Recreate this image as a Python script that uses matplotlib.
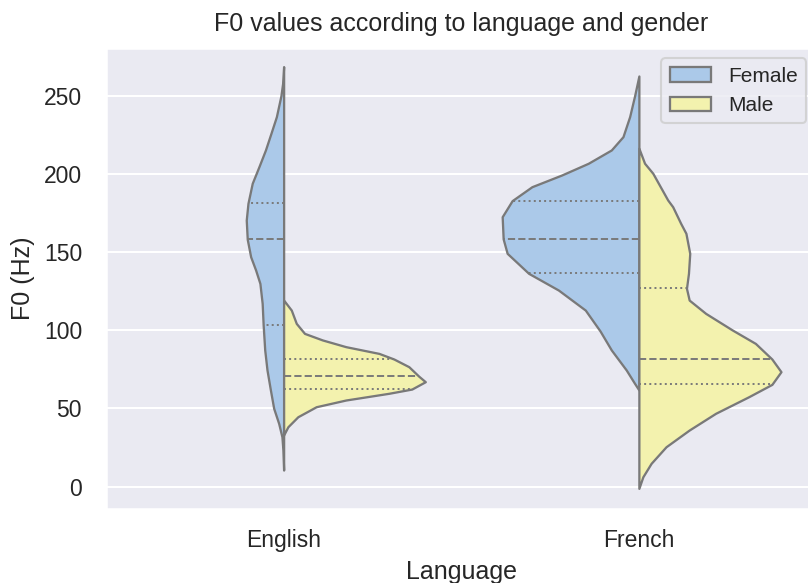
import numpy as np
import matplotlib
matplotlib.use("Agg")
import matplotlib.pyplot as plt
import seaborn as sns
from matplotlib.patches import Patch

# ---------------- data ----------------
languages = ["English", "French"]
genders = ["Female", "Male"]

# F0 grid (Hz) and relative density (1.0 = widest half-violin) for each half
eng_f_y = [268.6, 257.9, 250.0, 236.6, 226.0, 215.3, 204.6, 194.0, 181.2, 170.5,
           158.2, 147.0, 138.5, 130.0, 117.2, 103.4, 87.4, 74.6, 61.8, 50.1,
           40.5, 31.9, 23.4, 10.6]
eng_f_d = [0.0, 0.007, 0.019, 0.051, 0.089, 0.128, 0.174, 0.221, 0.251, 0.263,
           0.256, 0.232, 0.197, 0.167, 0.151, 0.144, 0.133, 0.117, 0.093, 0.070,
           0.035, 0.012, 0.005, 0.0]

eng_m_y = [119.3, 112.9, 104.4, 98.0, 93.8, 89.5, 85.2, 81.6, 76.7, 70.7,
           67.1, 62.4, 59.7, 55.4, 51.1, 44.7, 38.3, 33.0]
eng_m_d = [0.0, 0.054, 0.089, 0.147, 0.273, 0.438, 0.671, 0.776, 0.881, 0.950,
           0.997, 0.902, 0.741, 0.438, 0.229, 0.100, 0.030, 0.0]

fr_f_y = [262.6, 250.0, 236.6, 223.8, 215.3, 206.8, 199.3, 191.8, 182.9, 172.6,
          158.4, 149.2, 136.4, 125.7, 112.9, 99.5, 87.4, 74.6, 66.0, 61.8]
fr_f_d = [0.0, 0.030, 0.065, 0.112, 0.194, 0.356, 0.543, 0.753, 0.892, 0.962,
          0.955, 0.927, 0.776, 0.566, 0.377, 0.273, 0.194, 0.089, 0.030, 0.0]

fr_m_y = [216.4, 206.8, 200.4, 183.3, 179.0, 168.4, 162.0, 149.2, 136.4, 126.8,
          119.3, 110.8, 100.2, 91.6, 81.6, 73.5, 65.4, 57.5, 46.9, 36.2,
          25.5, 14.9, 6.3, -1.1]
fr_m_d = [0.0, 0.040, 0.098, 0.203, 0.238, 0.294, 0.331, 0.358, 0.349, 0.335,
          0.354, 0.470, 0.657, 0.820, 0.936, 1.0, 0.936, 0.773, 0.540, 0.354,
          0.191, 0.086, 0.028, 0.0]

# quartiles (Q1, median, Q3)
eng_f_q = [103.4, 158.2, 181.2]
eng_m_q = [62.4, 70.7, 81.6]
fr_f_q = [136.4, 158.4, 182.9]
fr_m_q = [65.4, 81.6, 126.8]

yticks = [0, 50, 100, 150, 200, 250]

# ---------------- style ----------------
sns.set_theme(style="darkgrid")
plt.rcParams["font.family"] = ["Liberation Sans", "DejaVu Sans"]

colors = {"Female": "#abc9e9", "Male": "#f3f2ae"}
edge = "#797979"
lw = 1.1
half_width = 0.4

DPI = 150
fig = plt.figure(figsize=(808 / DPI, 583 / DPI), dpi=DPI)
W, H = 808, 583
ax = fig.add_axes([106 / W, (H - 509) / H, (816.5 - 106) / W, (509 - 48) / H])

halves = {
    ("English", "Female"): (eng_f_y, eng_f_d, eng_f_q),
    ("English", "Male"): (eng_m_y, eng_m_d, eng_m_q),
    ("French", "Female"): (fr_f_y, fr_f_d, fr_f_q),
    ("French", "Male"): (fr_m_y, fr_m_d, fr_m_q),
}

for i, lang in enumerate(languages):
    for g in genders:
        y, d, q = halves[(lang, g)]
        y = np.asarray(y)
        w = np.asarray(d) * half_width
        sign = -1 if g == "Female" else 1
        ax.fill_betweenx(y, i, i + sign * w, facecolor=colors[g],
                         edgecolor=edge, linewidth=lw, zorder=2)
        order = np.argsort(y)
        for k, qv in enumerate(q):
            wq = np.interp(qv, y[order], w[order])
            ls = "--" if k == 1 else ":"
            ax.plot([i, i + sign * wq], [qv, qv], color=edge, linestyle=ls,
                    linewidth=lw * 0.85, zorder=3)

ax.set_xlim(-0.5, 1.5)
ax.set_ylim(-14.3, 280.5)
ax.set_xticks(range(len(languages)))
ax.set_xticklabels(languages)
ax.set_yticks(yticks)
ax.tick_params(axis="y", pad=5.5)
ax.xaxis.grid(False)
ax.set_xlabel("Language")
ax.set_ylabel("F0 (Hz)")
ax.set_title("F0 values according to language and gender", pad=8)

handles = [Patch(facecolor=colors[g], edgecolor=edge, linewidth=lw, label=g)
           for g in genders]
ax.legend(handles=handles, loc="upper right", fontsize=10)

fig.savefig("out.png", dpi=DPI)
